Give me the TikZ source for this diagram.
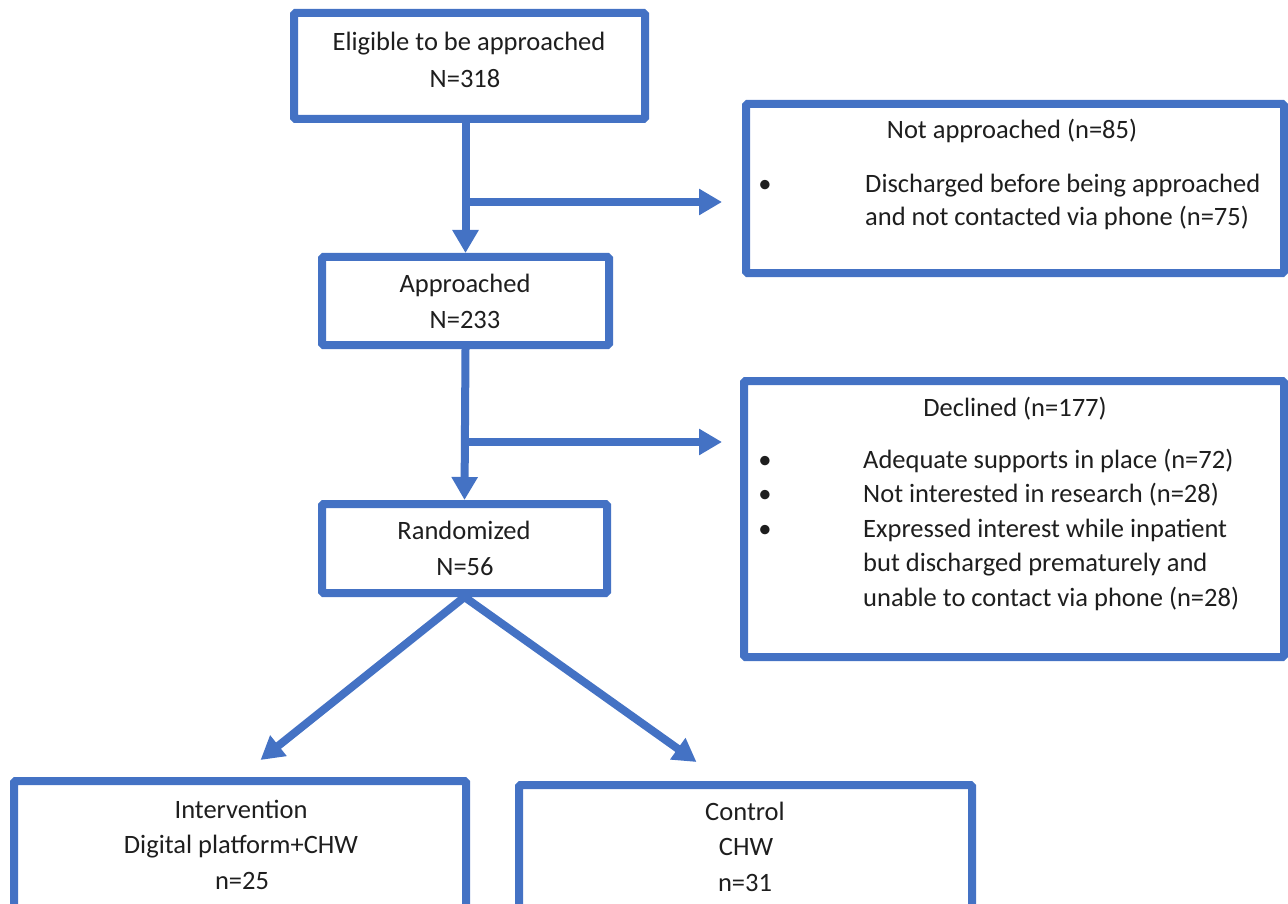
\documentclass[tikz,border=0pt]{standalone}
\usepackage{fontspec}
\setmainfont{Carlito}
\usetikzlibrary{arrows.meta,calc}
\definecolor{boxblue}{HTML}{4472C4}
\definecolor{ink}{HTML}{1E1E1E}
\begin{document}
\begin{tikzpicture}[x=1pt,y=-1pt,
  flowbox/.style={draw=boxblue,line width=8pt,rounded corners=1.5pt,inner sep=0pt,fill=none},
  flowline/.style={draw=boxblue,line width=8pt},
  flowarrow/.style={flowline,-{Triangle[length=23pt,width=25pt]}},
  txt/.style={font=\fontsize{26.5}{36}\selectfont,text=ink,inner sep=0pt,anchor=base},
  txtl/.style={txt,anchor=base west}]
\useasboundingbox (0,0) rectangle (1288,904);

% boxes (centre, width, height measured on the stroke centre line)
\node[flowbox,minimum width=351pt,minimum height=106pt] (elig)  at (469.5,66) {};
\node[flowbox,minimum width=287pt,minimum height=88pt]  (appr)  at (465.5,301) {};
\node[flowbox,minimum width=285pt,minimum height=89pt]  (rand)  at (464.5,548.5) {};
\node[flowbox,minimum width=538pt,minimum height=169pt] (notap) at (1015,188.5) {};
\node[flowbox,minimum width=540pt,minimum height=276pt] (decl)  at (1014,519) {};
\node[flowbox,minimum width=452pt,minimum height=134pt] (intv)  at (240,848) {};
\node[flowbox,minimum width=453pt,minimum height=130pt] (ctrl)  at (745.5,850) {};

% main flow
\draw[flowarrow] (elig.south -| appr.north) -- (appr.north);
\draw[flowarrow] (appr.south) -- (rand.north);
\coordinate (br1) at (465.5,202);
\coordinate (br2) at (465.5,442);
\draw[flowarrow,shorten >=20pt] (br1) -- (br1 -| notap.west);
\draw[flowarrow,shorten >=18pt] (br2) -- (br2 -| decl.west);
\draw[flowarrow] (rand.south) -- ($(rand.south)+(-204,163)$) coordinate (tipL);
\draw[flowarrow] (rand.south) -- ($(rand.south)+(232,165)$) coordinate (tipR);

% texts
\node[txt] (t1a) at (469,51) {Eligible to be approached};
\node[txt] (t1b) at (465,88) {N=318};
\node[txt] (t2a) at (465,292) {Approached};
\node[txt] (t2b) at (465,328) {N=233};
\node[txt] (t3a) at (464,539) {Randomized};
\node[txt] (t3b) at (465,575) {N=56};

\node[txt] (t4h) at (1012,139) {Not approached (n=85)};
\node[txt] (b4a) at (765,193) {•};
\node[txtl] (t4a) at (865,193) {Discharged before being approached};
\node[txtl] (t4b) at (865,226) {and not contacted via phone (n=75)};

\node[txt] (t5h) at (1015,416) {Declined (n=177)};
\node[txt] (b5a) at (765,468) {•};
\node[txt] (b5b) at (765,502) {•};
\node[txt] (b5c) at (765,537) {•};
\node[txtl] (t5a) at (863,468) {Adequate supports in place (n=72)};
\node[txtl] (t5b) at (863,502) {Not interested in research (n=28)};
\node[txtl] (t5c) at (863,537) {Expressed interest while inpatient};
\node[txtl] (t5d) at (863,571) {but discharged prematurely and};
\node[txtl] (t5e) at (863,606) {unable to contact via phone (n=28)};

\node[txt] (t6a) at (241,818) {Intervention};
\node[txt] (t6b) at (241,853) {Digital platform+CHW};
\node[txt] (t6c) at (242,889) {n=25};
\node[txt] (t7a) at (745,820) {Control};
\node[txt] (t7b) at (746,855) {CHW};
\node[txt] (t7c) at (745,891) {n=31};
\end{tikzpicture}
\end{document}
